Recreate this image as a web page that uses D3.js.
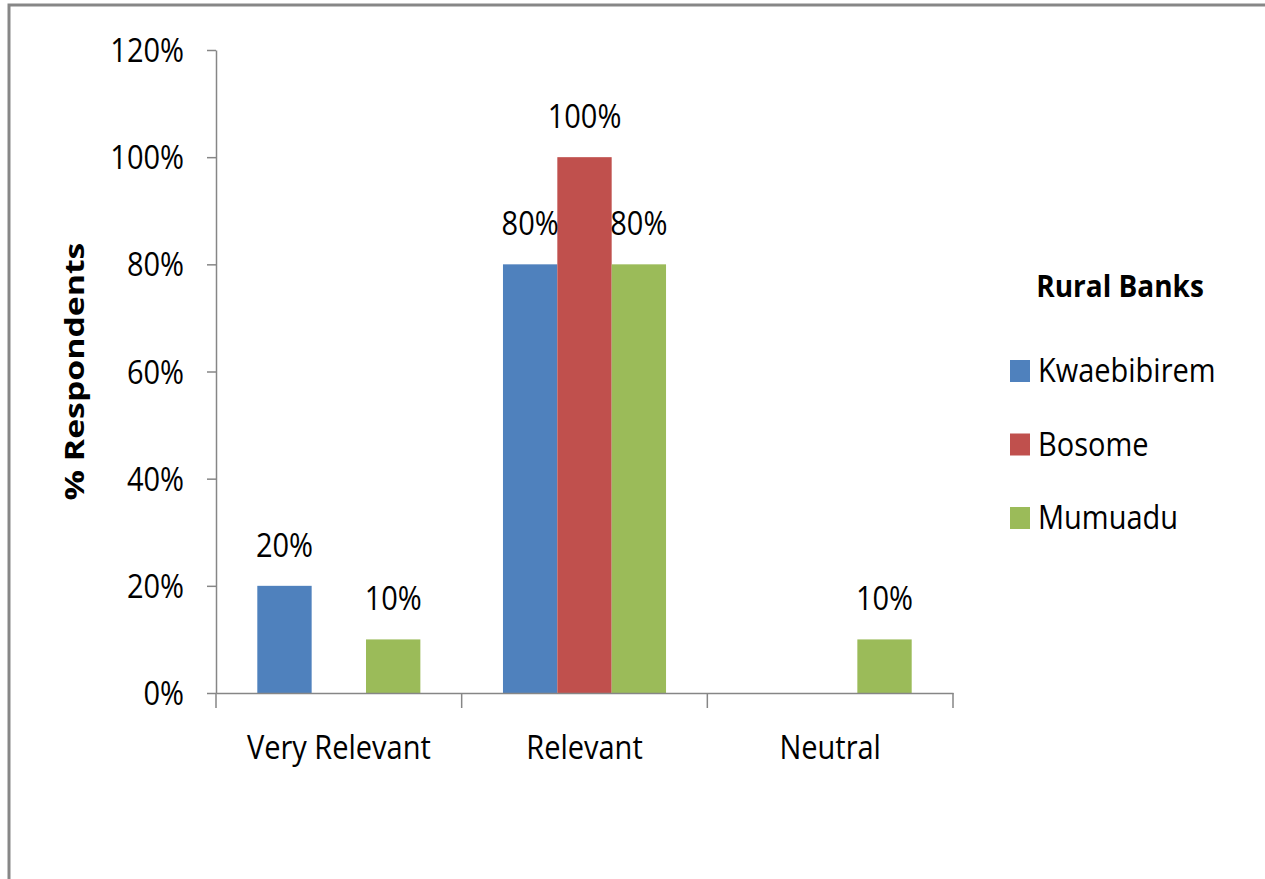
<!DOCTYPE html>
<html>
<head>
<meta charset="utf-8">
<script src="https://cdn.jsdelivr.net/npm/d3@7"></script>
<style>
  html, body { margin: 0; padding: 0; background: #fff; overflow: hidden; }
  svg { display: block; }
  text { font-family: "Open Sans", "DejaVu Sans", sans-serif; fill: #000; }
</style>
</head>
<body>
<svg id="chart" width="1265" height="879"></svg>
<script>
// ---- data ----
const categories = ["Very Relevant", "Relevant", "Neutral"];
const seriesNames = ["Kwaebibirem", "Bosome", "Mumuadu"];
const kwaebibirem = [0.20, 0.80, 0.00];
const bosome = [0.00, 1.00, 0.00];
const mumuadu = [0.10, 0.80, 0.10];
const yTicks = [0, 0.2, 0.4, 0.6, 0.8, 1.0, 1.2];
const colors = ["#4F81BD", "#C0504D", "#9BBB59"];
const legendTitle = "Rural Banks";
const yAxisTitle = "% Respondents";

const seriesValues = [kwaebibirem, bosome, mumuadu];

const svg = d3.select("#chart");
const W = 1265, H = 879;
const margin = { left: 216, right: W - 953, top: 50, bottom: H - 693 };
const SY = 1.16; // vertical stretch of the reference text

// border
svg.append("rect")
  .attr("x", 9).attr("y", 5)
  .attr("width", W + 20).attr("height", H + 20)
  .attr("fill", "#fff").attr("stroke", "#878787").attr("stroke-width", 3);

const x0 = d3.scaleBand().domain(categories).range([margin.left, W - margin.right]).paddingInner(0).paddingOuter(0);
const x1 = d3.scaleBand().domain(seriesNames).range([0, x0.bandwidth()]).paddingInner(0).paddingOuter(0.76);
const y = d3.scaleLinear().domain([0, 1.2]).range([H - margin.bottom, margin.top]);
const fmt = d3.format(".0%");

function stretchedText(g, tx, ty, str, opts = {}) {
  const t = g.append("g").attr("transform", `translate(${tx},${ty}) scale(${opts.sx || 1},${opts.sy || SY})`)
    .append("text")
    .attr("text-anchor", opts.anchor || "middle")
    .attr("font-size", opts.size || 29)
    .attr("font-weight", opts.weight || "normal")
    .text(str);
  return t;
}

// bars
const data = categories.map((c, i) => ({ cat: c, vals: seriesNames.map((s, j) => ({ s, v: seriesValues[j][i], j })) }));
const groups = svg.append("g").selectAll("g").data(data).join("g")
  .attr("transform", d => `translate(${x0(d.cat)},0)`);
groups.selectAll("rect").data(d => d.vals.filter(e => e.v > 0)).join("rect")
  .attr("x", d => x1(d.s)).attr("width", x1.bandwidth())
  .attr("y", d => y(d.v)).attr("height", d => y(0) - y(d.v))
  .attr("fill", d => colors[d.j]);

// data labels
const labels = svg.append("g");
data.forEach(d => d.vals.filter(e => e.v > 0).forEach(e => {
  stretchedText(labels, x0(d.cat) + x1(e.s) + x1.bandwidth() / 2, y(e.v) - 29, fmt(e.v));
}));

// y axis
const yAxis = d3.axisLeft(y).tickValues(yTicks).tickFormat(fmt).tickSize(9).tickSizeOuter(0);
const ya = svg.append("g").attr("transform", `translate(${margin.left},0)`).call(yAxis);
ya.selectAll("text").remove();
ya.select(".domain").attr("stroke", "#868686").attr("stroke-width", 1.5);
ya.selectAll(".tick line").attr("stroke", "#868686").attr("stroke-width", 1.5);
const yl = svg.append("g");
yTicks.forEach(t => stretchedText(yl, 184, y(t) + 12, fmt(t), { anchor: "end" }));

// x axis
const xAxis = d3.axisBottom(x0).tickValues([]).tickSizeOuter(0);
const xa = svg.append("g").attr("transform", `translate(0,${y(0)})`).call(xAxis);
xa.select(".domain").attr("stroke", "#868686").attr("stroke-width", 1.5);
const bounds = categories.map(c => x0(c)).concat([x0(categories[categories.length - 1]) + x0.bandwidth()]);
xa.selectAll("line.sep").data(bounds).join("line").attr("class", "sep")
  .attr("x1", d => d).attr("x2", d => d).attr("y1", 0).attr("y2", 15)
  .attr("stroke", "#868686").attr("stroke-width", 1.5);
const xl = svg.append("g");
categories.forEach(c => stretchedText(xl, x0(c) + x0.bandwidth() / 2, 759, c));

// y axis title (rotated)
svg.append("g").attr("transform", `translate(84,${(y(0) + y(1.2)) / 2}) rotate(-90) scale(1.3,1)`)
  .append("text").attr("text-anchor", "middle").attr("font-size", 26).attr("font-weight", "bold")
  .text(yAxisTitle);

// legend
const lg = svg.append("g");
stretchedText(lg, 1120, 297, legendTitle, { size: 28, weight: "bold", sy: 1.08 });
seriesNames.forEach((s, i) => {
  const cy = 371 + i * 73.5;
  lg.append("rect").attr("x", 1010).attr("y", cy - 11).attr("width", 20).attr("height", 22).attr("fill", colors[i]);
  stretchedText(lg, 1038, cy + 11, s, { anchor: "start", size: 29, sy: 1.12 });
});
</script>
</body>
</html>
